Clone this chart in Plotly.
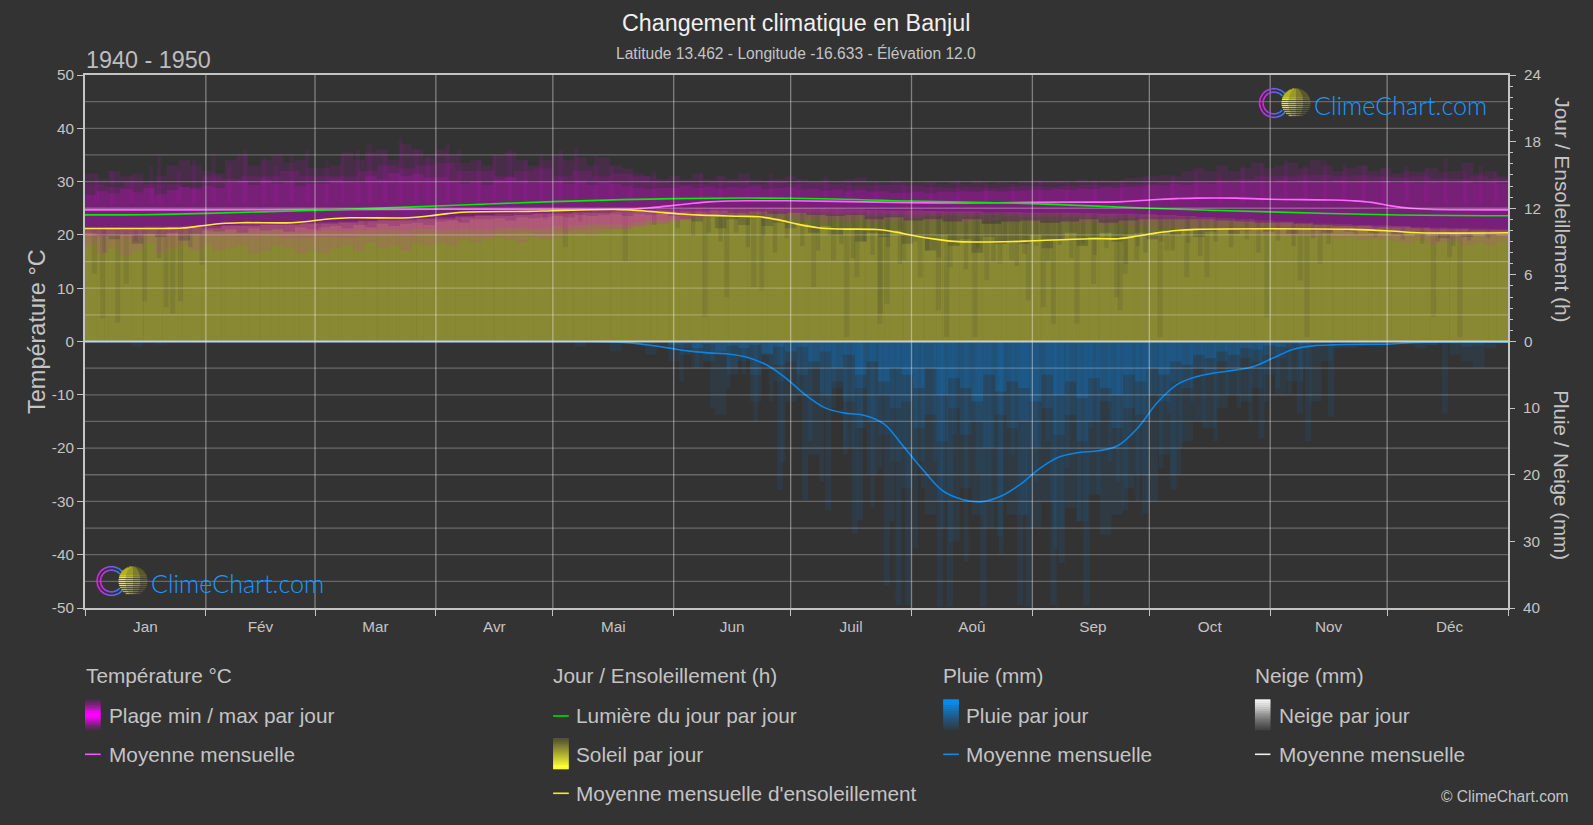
import math
import plotly.graph_objects as go

# ---------- page geometry ----------
W, H = 1593, 825
L, R, T, B = 85.3, 1508.0, 74.7, 607.7

# ---------- labels ----------
months = ["Jan", "Fév", "Mar", "Avr", "Mai", "Jun", "Juil", "Aoû", "Sep", "Oct", "Nov", "Déc"]
month_mid = [15.5, 45, 74.5, 105, 135.5, 166, 196.5, 227.5, 258.5, 288.5, 319, 350]
month_edges = [0, 31, 59, 90, 120, 151, 181, 212, 243, 273, 304, 334, 365]
temp_ticks = [-50, -40, -30, -20, -10, 0, 10, 20, 30, 40, 50]
temp_labels = ["-50", "-40", "-30", "-20", "-10", "0", "10", "20", "30", "40", "50"]

# ---------- daily ranges (deg C) ----------
t_hi1 = [31.5,30.5,32,31,31.5,30,31,33,34,33, 32,31.5,34,35,33,34,35,33.5,34,32.5,
         32.5,33,35.5,34,35.5,36,34,37,36,34.5, 36,35,33.5,34,33,35,35.5,34,33,34,
         35,34,34.5,33,34.5,33,32.5,31.5,31,30.5, 31,30.5,31.5,30.5,31,30.5,31.5,30.5,30.2,30.5,
         31,30.5,30,30.3,30,30.5,30.8,30,29.8,30.2, 29.8,29.7,30,29.5,30,29.6,30.2,29.5,29.8,29.6,
         30,30.3,30,30.2,29.8,30.5,30.1,30.3,30.2,30.6, 30.8,31,31.2,31,32,32.5,32,33,32,32.5,
         33.5,32.5,33,33.5,32.5,34,33,32,32.5,33,32, 32.5,31.5,32,31.8,32.5,31.8,32,33.5,31.5,32,31]
t_hi2 = [29.5,29,30,29.5,29.5,29,31, 30.5,31,31,32,31,31, 31,32,33,32.5,33,33.5, 32,32,31,32,32.5,31,
         32,31,31.5,31,30,29.5, 29.6,29.8,30,29.5,30,29.6, 29.8,29.5,29.3,29.3,29.4,29.2,29,
         28.8,29,28.8,29,29.2,29, 29.2,29.4,29.3,29.5,29.6,29.8, 30,30.2,30.3,30.5,31,31,
         31.2,31.3,31,31.2,31,30.8, 31,30.6,30.5,31,30.6]
t_hi3 = [27.5,28.2,27.8,28.6,28,28.8,27.6,28.4,29,28.6, 29.2,28.8,29.8,30.2,29.4,30.4,29.6,30,29.2,29.6,
         29.6,30.4,30,29.8,31,30.4,31.6,31,31.4,30.8, 30.8,30.2,29.6,30,29.4,30.4,30.8,30.2,29.8,30,
         30.2,29.6,30.2,29.4,30,29.6,29.2,28.8,28.6,28.8, 28.8,29.2,28.8,29.1,28.7,29,28.8,29.1,28.6,28.8,
         28.9,28.5,28.6,28.3,28.5,28.2,28.4,28.1,28.2,27.9, 27.9,28.1,27.8,28.1,28,28.2,28.1,28.3,28.1,28.2,
         28.3,28.5,28.4,28.6,28.4,28.7,28.6,28.9,28.8,29, 29.1,29.4,29.3,29.6,29.4,29.7,29.6,29.9,29.8,30,
         30.1,29.9,30.3,30,30.2,30.1,29.9,30.2,30,30.1,29.9, 30.1,29.7,29.9,29.7,30,29.8,29.9,30.1,29.7,29.9,29.6]
t_lo3 = [20.5,20.8,20.6,20.9,20.7,21,20.9, 20.8,20.7,21,20.6,20.5,20.8, 20.7,20.9,21,20.8,21.2,21, 21.1,21,21.3,21.4,21.2,21.6,
         21.8,22,21.9,22.4,22.8,23.1, 23.6,24,24.2,24.4,24.5,24.3, 24.2,24,24.1,23.9,24,23.8,24,
         24.1,24,24.2,24,23.9,24, 23.9,23.8,23.6,23.7,23.4,23.3, 23.3,23.1,23,22.8,22.6,22.3,
         22.2,22,21.8,21.7,21.5,21.4, 21.2,21,20.9,21,20.8]
t_lo2 = [19.5,19.8,19.5,20,19.6,19.9,19.8, 19.7,19.6,19.9,19.4,19.5,19.6, 19.5,19.8,20,19.7,20.2,20, 20,19.8,20.4,20.5,20.2,20.7,
         21,21.2,21.1,21.7,22.1,22.6, 23.2,23.6,23.8,24,24.1,23.9, 23.7,23.5,23.6,23.4,23.5,23.2,23.5,
         23.6,23.4,23.7,23.5,23.3,23.4, 23.3,23.2,23,23.1,22.8,22.7, 22.7,22.5,22.4,22.2,22,21.6,
         21.5,21.2,21,20.9,20.7,20.5, 20.3,20,20,20.1,19.8]
t_lo1 = [18,16.5,17.5,16,17,18.5,16.5,17.5,18,17, 18,17,17.5,18,16.5,17,18,17.5,16.5,17,
         16.5,17.5,18,17,18.5,17.5,18,17,18.5,18, 18.5,18,19,18.5,19,19.5,19,18.5,19.5,19,
         19.5,20,20.2,20,20.5,21,21,21.5,22,22, 22.5,23,23,23.5,23.5,23.5,23.3,23.6,23,23,
         23,22.8,23,22.5,22.8,22.5,22.8,22.3,22.5,22.7, 22.5,22.8,22.5,22.8,22.5,22.3,22.7,22.5,22.8,22.4,
         22.6,22.4,22.5,22.2,22.3,22,22.2,21.8,22,21.7, 21.7,21.6,21.5,21.3,21.4,21,21.2,20.8,20.5,20.5,
         20.3,20.2,20,19.8,20,19.6,19.8,19.3,19.5,19,19.2, 19,18.8,18.5,19,18.2,18.5,18.8,18,18.5,18,18.8]
# hottest single days
heat_day = [3,7,12,17,19,24,28,33,37,41,46,49,53,57,62,66,70,73,77,81,85,88,93,96,101,105,109,113,117,122,126,131,135,140,146,
            152,158,163,170,176,183,190,196,203,210,217,224,231,238,245,252,259,266,272,279,285,291,297,302,308,313,318,323,328,333,
            339,344,349,354,358,362]
heat_max = [31.5,32,31,33,35,32,34,35,33,36,34.5,33,35,36,34,35,36,37,35,38,36,35,37,36,34,35,36,34,35,36,36.5,35,33,31.5,32,
            31,31.5,31,30.5,31.5,30.5,31,30,30,29.8,29.7,30.2,30,29.7,30.3,30.1,30.4,30.3,31,31.2,32,31.5,33,33.5,34,33,34,33.5,33,32.5,
            33,32.5,34.5,32,33,32]

# ---------- daily sunshine (h) ----------
s_hi1 = [10.3,10.3,10.3,10.35,10.35,10.4,10.4, 10.5,10.55,10.6,10.65,10.7,10.75, 10.8,10.9,11,11.05,11.1,11.2,
         11.3,11.4,11.5,11.55,11.6,11.65, 11.7,11.75,11.8,11.85,11.9,11.95, 12,12,12,12,12,12,
         12,11.95,11.9,11.85,11.8,11.8,11.75, 11.7,11.7,11.65,11.65,11.6,11.6, 11.6,11.55,11.5,11.5,11.45,11.4,
         11.3,11.2,11.1,11,10.9,10.8, 10.7,10.6,10.55,10.5,10.45,10.4, 10.3,10.25,10.2,10.15,10.1]
s_hi2 = [10.1,10.2,10.1,10.2,10.2,10.3,10.2, 10.4,10.4,10.5,10.5,10.6,10.6, 10.7,10.8,10.9,10.9,11,11,
         11.2,11.3,11.3,11.4,11.5,11.5, 11.6,11.6,11.7,11.7,11.8,11.7, 11.7,11.8,11.6,11.7,11.5,11.6,
         11.4,11.3,11.4,11,11.2,10.9,11, 10.8,11,10.6,10.8,10.9,10.7, 10.8,11,10.7,10.9,11,11,
         11,11,10.9,10.8,10.7,10.7, 10.6,10.5,10.4,10.4,10.3,10.3, 10.2,10.1,10.1,10,10]
s_hi3 = [9.8,9.5,9.2,9.6,8.8,9.7,9.4,9.8,9.1,9.7, 10,9.9,10.1,9.8,10.2,10,10.1,9.9,10.3,10.1,
         10.3,10.4,10.2,10.5,10.3,10.6,10.4,10.6,10.7,10.5, 10.8,10.9,10.7,11,11,11.1,10.9,11.2,11.1,11.2,
         11.3,11.2,11.4,11.3,11.4,11.5,11.3,11.5,11.4,11.5, 11.3,11,10.8,11.2,10.2,11,10.5,11.1,10.4,10.7,
         10.2,10.6,9.8,10.4,9.6,10.2,9,9.8,9.4,10, 8.8,9.4,8.2,9.6,8.6,9.2,8,9.4,8.8,9,
         8.8,9.6,8.4,9.2,9.8,8.6,9.4,9.8,9,9.6, 9.8,9.2,10,9.6,10.1,9.4,9.9,10.2,9.7,10,
         10.2,9.9,10.2,9.7,10.1,10,9.8,10.1,9.9,10,9.8, 9.9,9.6,9.9,9.5,9.8,9.3,9.7,9.4,9.8,9.5,9.7]
# single overcast days: day of year, sunshine (h)
cloud_day = [2.4,4.5,8.4,10.6,15.3,20.8,22.5,24.5,30, 123.2,138.6,159,164.6,171.5,173.6,186.9,192,195.4,198,203.9,204,205.7,210,
             214.2,218.9,221,221.9,228.3,231.3,234.7,237.7,242,245.8,248.4,254.4,258.7,264.6,265.5,266.8,269.8,275.8,
             277.5,282.6,287.8,303.1,311.7,313.4,316.8,345.9,350,352.7]
cloud_low = [6.1,2.1,1.7,5.2,3.6,3.1,2.5,3.6,6.9, 8.5,7.2,2.2,4,4.9,4.6,4.9,7.3,0.4,5.8,1.6,2.5,3.4,7.3,
             5.8,2.8,0.4,6.7,0.4,5.5,7,7.3,3.7,3.1,1.6,1.6,5.2,4,2.8,6.1,7.3,0.4,
             8.2,5.8,5.8,2.2,5.5,0.4,7,2.2,7.6,0.4]
haze_day = [5,13,19,27,60,72,96,118,127,146,152,156,160,163,167,170,174,177,180,184,188,191,194,197,200,202,206,209,213,216,
            219,223,226,229,233,236,239,241,244,247,250,253,256,259,262,267,270,272,276,279,283,286,290,294,298,301,306,310,315,319,
            326,331,338,343,347,351,355,360]
haze_h = [8,9,7.5,8.5,10,10.5,10.8,11,10.8,10.5,10.2,9.5,9.8,9,9.8,8.5,9.5,8,9.3,8.6,8.2,9.5,8.8,7.5,9,7.8,8.5,7,9,8.2,
          7.6,8.8,6.5,8.4,7.2,8.8,6.8,7.9,8.6,7.3,8.7,7.5,8.8,7.8,8.4,7,8.6,8,9,8.2,8.9,7.7,9,8.5,9.2,8,9.1,8.6,9.3,8.8,
          9.6,9.4,9.2,8.8,9,8.6,9.1,9.3]

# ---------- daily rain (mm) ----------
r_1 = [0,0,0,0,0.8,0,0.5,0,0,0]+[0]*30+[0,0,0.8,0,0,1.5,0,0,2,0.8, 3,1,4,2,11,5,3,9,4,6,
       9,8,17,10,7,16,13,20,14,18, 22,18,26,24,30,22,26,28,24,26, 26,28,24,28,25,27,23,29,26,22,
       20,24,17,20,15,12,13,10,8,9, 7,5,8,6,4,9,3,1,1,0.5,0.5, 0.5,0.3,0.5,1,0.5,0.3,2,3,4,1,0.3]
r_2 = [0]*40+[0,0,0,0,0,0,0,0.2,0.4,0.2, 1,2,1.5,3,2,4,2.5,5,2,3.5, 3,5,4,8,6,9,7,12,8,10,
       9,13,11,15,10,14,12,16,11,13, 12,16,10,14,11,15,12,9,13,10, 11,8,9,6,7,4,5,3,4,2.5,
       3,2,2.5,1,0.8,0.5,0.2,0.2,0.3,0.1,0.1, 0.1,0.2,0.1,0.3,0.5,0.2,0.4,0.8,0.6,0.2,0.1]
r_3 = [0]*50+[0.5,0.3,1,0.4,1.5,0.6,1,0.5,1.8,0.8, 1.5,0.8,3,1.5,4,2,5,3,6,4,
       5,7,4,8,5.5,7,9,5,7.5,6, 7,9,5,8,6,8.5,5.5,7,8,5, 6,4,5,3,3.5,2,2.5,1.5,2,1,
       1.2,0.6,0.8,0.3,0.4,0.2,0.1,0,0,0,0]+[0]*11
storm_day = [178.3,184.7,190.7,197.5,198.8,205.7,208.7,211.2,219.3,221.9,230.4,234.7,239.9,242,248.4,250.5,256.9,
             266.8,271.9,279.2,301.8,311.6,313.8,319.7,348.8]
storm_mm = [22.3,23.8,25.3,28.8,26.8,36.6,39.6,39.6,39.8,39.8,39.8,29.3,39.6,39.8,39.6,33.3,39.6,
            25.3,25.8,22.3,14.6,10.8,15,11.3,10.8]
wet_day = [153,157,161,165,169,172,176,179,183,186,189,192,195,199,202,204,207,210,213,215,218,220,223,226,229,232,235,238,241,244,
           247,249,252,255,258,260,263,265,268,270,273,276,278,281,284,287,290,293,296,299,303,306,309,312]
wet_mm = [6,4,10,7,5,12,9,18,8,15,21,10,17,13,25,19,27,16,31,22,18,28,14,33,20,24,32,17,26,21,
          15,31,19,27,13,23,18,21,14,24,12,19,11,16,9,13,15,8,10,12,9,7,8,6]

# ---------- smooth means ----------
temp_day = [0,30,60,90,120,135,140,145,150,155,160,165,170,181,196,212,226,243,255,265,270,275,280,285,295,304,320,325,330,335,340,345,350,365]
temp_avg = [24.7,24.7,24.75,24.8,24.8,24.8,24.85,25.1,25.45,25.85,26.2,26.35,26.4,26.4,26.25,26.05,26,26.1,26.15,26.2,26.4,26.65,26.8,26.9,26.9,26.7,26.55,26.4,26.1,25.45,25,24.8,24.72,24.7]
light_day = [0,15.5,31,59,90,120,151,181,212,243,273,304,334,365]
light_h = [11.4,11.42,11.54,11.81,12.2,12.6,12.87,12.9,12.65,12.42,12,11.67,11.42,11.33]
sun_day = [0,20,25,30,35,40,53,58,63,68,83,88,93,98,114,120,137,143,148,153,158,168,173,178,183,188,193,203,208,213,218,223,228,238,243,258,265,270,275,280,285,325,335,342,365]
sun_avg = [10.18,10.18,10.22,10.42,10.62,10.7,10.7,10.85,11.05,11.14,11.14,11.3,11.52,11.66,11.72,11.78,11.88,11.78,11.62,11.48,11.38,11.28,11.23,10.95,10.55,10.25,10.13,10.08,9.85,9.5,9.22,9.02,8.96,9,9.07,9.26,9.26,9.5,9.78,10,10.1,10.1,9.95,9.79,9.79]
rain_day = [0,60,120,125,130,135,140,145,150,155,160,165,170,175,180,185,190,195,200,205,210,215,220,225,230,235,240,245,250,255,260,265,270,275,280,285,290,295,300,305,310,315,320,325,330,335,340,345,365]
rain_avg = [0,0,0,0,0,0.05,0.2,0.57,1,1.45,1.7,1.88,2.4,3.57,5.6,8.1,10,10.75,11.1,12.4,15.8,19.3,22.4,23.7,24.05,23.2,21.4,19,17.3,16.65,16.4,15.6,13,9.2,6.5,5.3,4.7,4.3,3.7,2.4,1.15,0.65,0.5,0.45,0.42,0.37,0.17,0.1,0.1]

# ---------- style ----------
BG = "#333333"
TXT = "#c4c4c4"
AXIS = "#c4c4c4"
MAG, YEL, BLU = "#ff00ff", "#ffff33", "#0a84e6"
FONT = "Liberation Sans"


def px(x):
    return (x - L) / (R - L)


def py(y):
    return (B - y) / (B - T)


def band(lo, hi, color, alpha, axis):
    n = len(hi)
    w = 365 / n
    return go.Bar(x=[(i + .5) * w for i in range(n)], y=[h - l for h, l in zip(hi, lo)], base=lo, width=w,
                  marker=dict(color=color, opacity=alpha, line_width=0), yaxis=axis,
                  showlegend=False, hoverinfo="skip")


def streaks(days, lo, hi, color, alpha, axis, width):
    return go.Bar(x=days, y=[h - l for h, l in zip(hi, lo)], base=lo, width=width,
                  marker=dict(color=color, opacity=alpha, line_width=0), yaxis=axis,
                  showlegend=False, hoverinfo="skip")


def curve(x, y, color, axis):
    return go.Scatter(x=x, y=y, mode="lines", yaxis=axis, showlegend=False, hoverinfo="skip",
                      line=dict(color=color, width=1.6, shape="spline", smoothing=1))


zeros_122, zeros_73 = [0] * 122, [0] * 73
fig = go.Figure()
# sunshine (drawn first, below the temperature band)
fig.add_trace(band(zeros_73, s_hi1, YEL, .15, "y"))
fig.add_trace(band(zeros_73, s_hi2, YEL, .19, "y"))
fig.add_trace(band(zeros_122, s_hi3, YEL, .17, "y"))
top_cloud = [s_hi1[min(int(d / (365 / 73)), 72)] for d in cloud_day]
top_haze = [s_hi1[min(int(d / (365 / 73)), 72)] for d in haze_day]
fig.add_trace(streaks(cloud_day, cloud_low, top_cloud, BG, .12, "y", 1.3))
fig.add_trace(streaks(haze_day, haze_h, top_haze, BG, .16, "y", 1.1))
# temperature band
t_lo3_122 = [t_lo3[int((i + .5) * 73 / 122)] for i in range(122)]
fig.add_trace(band(t_lo1, t_hi1, MAG, .10, "y2"))
fig.add_trace(band(t_lo2, t_hi2, MAG, .12, "y2"))
fig.add_trace(band(t_lo3_122, t_hi3, MAG, .17, "y2"))
fig.add_trace(streaks(heat_day, [26] * len(heat_day), heat_max, MAG, .08, "y2", 1.1))
fig.add_trace(curve(temp_day, temp_avg, "#ff66ff", "y2"))
# daylight and mean sunshine
fig.add_trace(curve(light_day, light_h, "#00ee00", "y3"))
fig.add_trace(curve(sun_day, sun_avg, "#ffee33", "y3"))
# rain
fig.add_trace(band([0] * len(r_1), r_1, BLU, .09, "y4"))
fig.add_trace(band([0] * len(r_2), r_2, BLU, .14, "y4"))
fig.add_trace(band([0] * len(r_3), r_3, BLU, .24, "y4"))
fig.add_trace(streaks(wet_day, [0] * len(wet_day), wet_mm, BLU, .09, "y4", 1.2))
fig.add_trace(streaks(storm_day, [0] * len(storm_day), storm_mm, BLU, .11, "y4", 1.6))
fig.add_trace(curve(rain_day, rain_avg, BLU, "y4"))

shapes = []
# grid above the data
for v in range(-45, 50, 5):
    if v:
        shapes.append(dict(type="line", xref="paper", yref="y2", x0=0, x1=1, y0=v, y1=v, layer="above",
                           line=dict(color="rgba(255,255,255,0.26)", width=1.3)))
for e in month_edges[1:-1]:
    shapes.append(dict(type="line", xref="x", yref="paper", x0=e, x1=e, y0=0, y1=1, layer="above",
                       line=dict(color="rgba(255,255,255,0.38)", width=1.3)))
shapes.append(dict(type="line", xref="paper", yref="y2", x0=0, x1=1, y0=0, y1=0, layer="above",
                   line=dict(color="rgba(225,225,225,0.85)", width=2)))


def mix(c1, c2, f):
    return "rgb(%d,%d,%d)" % tuple(round(a + (b - a) * f) for a, b in zip(c1, c2))


BGC = (51, 51, 51)


def strip_swatch(x0, x1, y0, y1, color, alphas):
    n = len(alphas)
    for i, a in enumerate(alphas):
        ya, yb = y0 + (y1 - y0) * i / n, y0 + (y1 - y0) * (i + 1) / n + .6
        c = mix(BGC, color, a)
        shapes.append(dict(type="rect", xref="paper", yref="paper", x0=px(x0), x1=px(x1), y0=py(ya), y1=py(min(yb, y1)),
                           fillcolor=c, line_width=0, layer="above"))


def leg_line(x0, x1, y, color):
    shapes.append(dict(type="line", xref="paper", yref="paper", x0=px(x0), x1=px(x1), y0=py(y), y1=py(y),
                       line=dict(color=color, width=1.6), layer="above"))


strip_swatch(85.3, 101, 699, 730, (255, 0, 255), [.12, .22, .33, .48, .62, .8, .92, 1, 1, .92, .8, .62, .48, .33, .22, .12])
strip_swatch(553.3, 569, 737.7, 769, (255, 255, 51), [.16, .2, .26, .32, .38, .44, .5, .56, .62, .68, .74, .8, .86, .92, 1, 1])
strip_swatch(943.3, 959, 699, 730, (10, 140, 240), [1, 1, .95, .85, .78, .7, .62, .55, .48, .42, .36, .3, .25, .2, .14, .08])
strip_swatch(1255, 1270.5, 699, 730, (255, 255, 255), [.95, .9, .85, .8, .72, .65, .58, .5, .44, .38, .32, .27, .22, .17, .12, .08])
leg_line(85.3, 101, 754, "#ff55ff")
leg_line(553.3, 569, 715.7, "#00dd00")
leg_line(553.3, 569, 793, "#eeee33")
leg_line(943.3, 959, 754, "#0a8cf0")
leg_line(1255, 1270.5, 754, "#eeeeee")


def logo(cx, cy, sx, sy):
    # concentric C marks
    for r in (14.5, 11):
        for k in range(14):
            a0 = math.radians(40 + 280 * k / 14)
            a1 = math.radians(40 + 280 * (k + 1) / 14)
            xm = math.cos((a0 + a1) / 2)
            shapes.append(dict(type="line", xref="paper", yref="paper", layer="above",
                               x0=px(cx + r * math.cos(a0)), y0=py(cy - r * math.sin(a0)),
                               x1=px(cx + r * math.cos(a1)), y1=py(cy - r * math.sin(a1)),
                               line=dict(color=mix((232, 30, 240), (40, 130, 255), (xm + 1) / 1.8), width=1.6)))
    # sun with horizontal stripes
    rs = 14.5
    offsets = [-14, -13, -12, -11, -10, -9, -8, -7, -6, -5, -3.5, -1.5, 0.5, 2.5, 4.5, 6.5, 8.5, 10.5, 12.5]
    for o in offsets:
        half = math.sqrt(max(rs * rs - o * o, 0))
        fade = .55 if o < -5 else 1.0 if o < 5 else .7
        wid = 1.6 if o < -5 else 1.3
        for j in range(4):
            xa = sx - half + 2 * half * j / 4
            xb = sx - half + 2 * half * (j + 1) / 4
            shapes.append(dict(type="line", xref="paper", yref="paper", layer="above",
                               x0=px(xa), x1=px(xb), y0=py(sy + o), y1=py(sy + o), opacity=fade * (1 - .25 * j),
                               line=dict(color="#f2ee1e", width=wid)))


logo(1274, 102.7, 1296, 102.7)
logo(111.7, 580.7, 133.3, 580.7)


def note(x, y, text, size=20.8, color=TXT, xanchor="left", angle=0, family=FONT, weight=None):
    f = dict(size=size, color=color, family=family)
    if weight:
        f["weight"] = weight
    return dict(x=px(x), y=py(y), xref="paper", yref="paper", text=text, showarrow=False, xanchor=xanchor,
                yanchor="middle", textangle=angle, font=f, borderpad=0, borderwidth=0)


notes = [
    note(796.5, 22.5, "Changement climatique en Banjul", 23.3, "#f0f0f0", "center"),
    note(796.5, 52.5, "Latitude 13.462 - Longitude -16.633 - Élévation 12.0", 15.6, TXT, "center"),
    note(86.3, 59.5, "1940 - 1950", 23.4, "#bdbdbd"),
    note(37.5, 331.5, "Température °C", 23.5, TXT, "center", -90),
    note(1563, 209, "Jour / Ensoleillement (h)", 20.9, TXT, "center", 90),
    note(1562, 475, "Pluie / Neige (mm)", 20.5, TXT, "center", 90),
    note(86.3, 675, "Température °C"), note(109, 715, "Plage min / max par jour"), note(109, 754, "Moyenne mensuelle"),
    note(553.5, 675, "Jour / Ensoleillement (h)"), note(576, 715, "Lumière du jour par jour"),
    note(576, 754, "Soleil par jour"), note(576, 793, "Moyenne mensuelle d'ensoleillement"),
    note(943.5, 675, "Pluie (mm)"), note(966.5, 715, "Pluie par jour"), note(966.5, 754, "Moyenne mensuelle"),
    note(1255, 675, "Neige (mm)"), note(1278.7, 715, "Neige par jour"), note(1278.7, 754, "Moyenne mensuelle"),
    note(1569, 796, "© ClimeChart.com", 15.6, TXT, "right"),
    note(1314, 105, "ClimeChart.com", 25.1, "#1a98ff", family="Lato", weight=300),
    note(151.7, 582.5, "ClimeChart.com", 25.1, "#1a98ff", family="Lato", weight=300),
]

tick_font = dict(size=15.3, color=TXT, family=FONT)
fig.update_layout(
    width=W, height=H, paper_bgcolor=BG, plot_bgcolor=BG, barmode="overlay", showlegend=False,
    margin=dict(l=L, r=W - R, t=T, b=H - B, pad=0), font=dict(family=FONT, color=TXT),
    shapes=shapes, annotations=notes,
    xaxis=dict(range=[0, 365], tickvals=month_mid, ticktext=months, ticks="", showgrid=False, zeroline=False,
               tickfont=tick_font, ticklabelstandoff=4, showline=True, linecolor=AXIS, linewidth=2, mirror=True,
               layer="above traces",
               minor=dict(tickvals=month_edges, ticks="outside", ticklen=6, tickwidth=1.3, tickcolor=AXIS, showgrid=False)),
    yaxis=dict(range=[-24, 24], visible=False, showgrid=False, zeroline=False),
    yaxis2=dict(range=[-50, 50], overlaying="y", side="left", tickvals=temp_ticks, ticktext=temp_labels,
                ticks="outside", ticklen=6, tickwidth=1.3, tickcolor=AXIS, tickfont=tick_font, showgrid=False,
                zeroline=False, showline=True, linecolor=AXIS, linewidth=2, layer="above traces"),
    yaxis3=dict(range=[-24, 24], overlaying="y", side="right", tickvals=[0, 6, 12, 18, 24], ticks="outside",
                ticklen=6, tickwidth=1.3, tickcolor=AXIS, tickfont=tick_font, showgrid=False, zeroline=False,
                ticklabelstandoff=5, showline=True, linecolor=AXIS, linewidth=2, layer="above traces",
                minor=dict(tickvals=list(range(1, 24)), ticks="outside", ticklen=3, tickwidth=1.2, tickcolor=AXIS, showgrid=False)),
    yaxis4=dict(range=[40, -40], overlaying="y", side="right", tickvals=[10, 20, 30, 40], ticks="outside",
                ticklen=6, tickwidth=1.3, tickcolor=AXIS, tickfont=tick_font, showgrid=False, zeroline=False,
                ticklabelstandoff=5, showline=False, layer="above traces"),
)

fig.write_html("out.html", config=dict(displayModeBar=False),
               post_script="document.body.style.margin='0';document.body.style.background='#333333';")
